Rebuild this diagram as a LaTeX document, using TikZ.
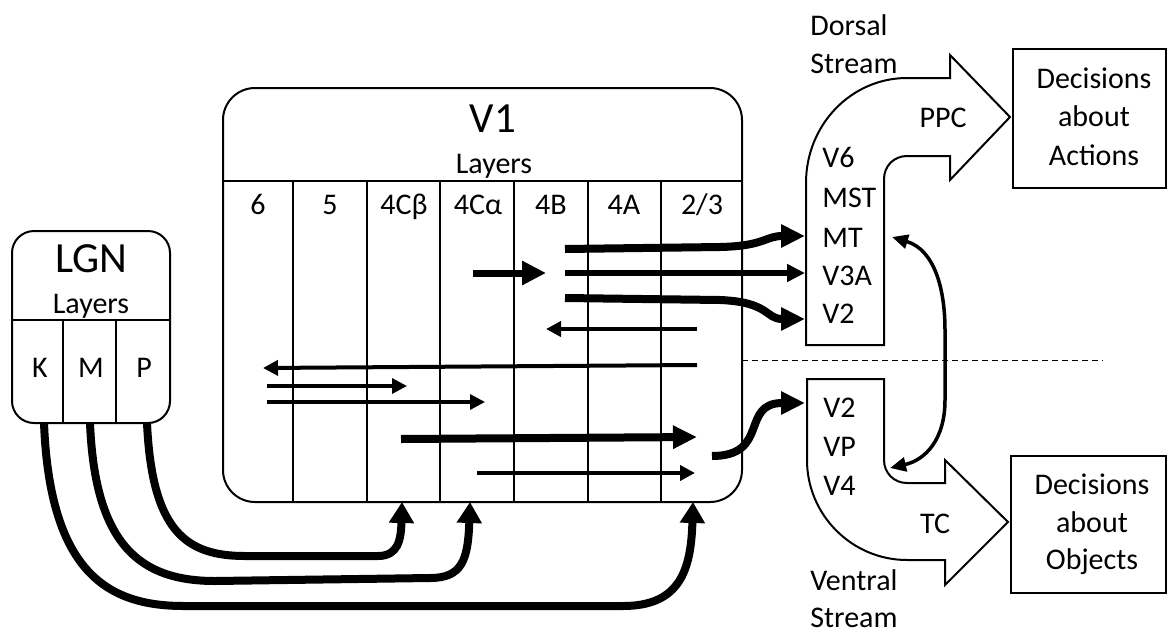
\documentclass[tikz,border=0pt]{standalone}
\usepackage{fontspec}
\setmainfont{Carlito}
\usepackage{tikz}
\usetikzlibrary{arrows.meta}
\newcommand\bigfont{\fontsize{21.5}{25}\selectfont}
\newcommand\labfont{\fontsize{15}{18}\selectfont}

\begin{document}
\begin{tikzpicture}[x=0.5pt, y=-0.5pt,
    box/.style={line width=1pt},
    sep/.style={line width=0.6pt},
    lab/.style={font=\labfont, anchor=base, inner sep=0pt},
    labl/.style={font=\labfont, anchor=base west, inner sep=0pt},
    head/.style={font=\bigfont, anchor=base, inner sep=0pt},
    fat/.style={line width=4pt, -{Triangle[length=12pt, width=11pt]}},
    fatb/.style={line width=3.5pt, -{Triangle[length=12pt, width=11.5pt]}},
    mid/.style={line width=3pt, -{Triangle[length=9pt, width=8.5pt]}},
    thin/.style={line width=2pt, -{Triangle[length=7.5pt, width=7.5pt]}},
    thinner/.style={line width=1.6pt, -{Triangle[length=7.5pt, width=7.5pt]}}]
  \useasboundingbox (0,0) rectangle (1168,633);

  % LGN
  \draw[box, rounded corners=11pt] (12,231) rectangle (170,423);
  \draw[box] (12,320) -- (170,320);
  \foreach \x in {63,116} \draw[sep] (\x,320) -- (\x,423);
  \node[head] (lgn) at (91,272) {LGN};
  \node[lab] (lgnlay) at (91,313) {Layers};
  \node[lab] (k) at (40,377) {K};
  \node[lab] (m) at (91,377) {M};
  \node[lab] (p) at (144,377) {P};

  % V1
  \draw[box, rounded corners=16pt] (223,88) rectangle (742,502);
  \draw[box] (223,181) -- (742,181);
  \foreach \x in {293,367,440,514,588,661} \draw[sep] (\x,181) -- (\x,502);
  \node[head] (v1) at (493,132) {V1};
  \node[lab] (v1lay) at (494,173) {Layers};
  \foreach \nm/\x/\t in {l6/258/6, l5/330/5, l4cb/404/4Cβ, l4ca/478/4Cα,
                         l4b/551/4B, l4a/624/4A, l23/702/{2/3}}
    \node[lab] (\nm) at (\x,214) {\t};

  % streams
  \draw[box, line join=miter] (806,345) -- (806,183)
    .. controls (806,125) and (851,78) .. (907,78) -- (950,78) -- (950,55)
    -- (1010,117) -- (950,180) -- (950,156) -- (907,156)
    .. controls (894,156) and (884,166) .. (884,179) -- (884,345) -- cycle;
  \draw[box, line join=miter] (807,379) -- (884,379) -- (884,460)
    .. controls (884,473) and (894,483) .. (907,483) -- (945,483) -- (945,460)
    -- (1008,522) -- (945,585) -- (945,560) -- (907,560)
    .. controls (852,560) and (807,515) .. (807,460) -- cycle;
  \draw[line width=0.5pt, dash pattern=on 3pt off 2pt] (742,360) -- (1103,360);

  \node[labl] (dors) at (810,35) {Dorsal};
  \node[labl] (dstr) at (810,73) {Stream};
  \node[labl] (vent) at (810,590) {Ventral};
  \node[labl] (vstr) at (810,627) {Stream};
  \node[lab] (ppc) at (943,127) {PPC};
  \node[lab] (tc) at (935,533) {TC};
  \foreach \nm/\y/\t in {v6/167/V6, mst/207/MST, mt/247/MT, v3a/285/V3A, dv2/323/V2}
    \node[labl] (\nm) at (822,\y) {\t};
  \foreach \nm/\y/\t in {vv2/417/V2, vp/456/VP, v4/495/V4}
    \node[labl] (\nm) at (823,\y) {\t};

  % decisions
  \node[draw, line width=0.8pt, inner sep=0pt, minimum width=76.5pt,
        minimum height=69.5pt] (act) at (1089.5,118.5) {};
  \node[lab] (act1) at (1094,88) {Decisions};
  \node[lab] (act2) at (1094,126) {about};
  \node[lab] (act3) at (1094,165) {Actions};
  \node[draw, line width=0.8pt, inner sep=0pt, minimum width=77.5pt,
        minimum height=68.5pt] (obj) at (1088.5,524.5) {};
  \node[lab] (obj1) at (1092,494) {Decisions};
  \node[lab] (obj2) at (1092,532) {about};
  \node[lab] (obj3) at (1092,569) {Objects};

  % arrows inside V1
  \foreach \nm/\xa/\ya/\xb/\yb/\st in {a/473/273/546/273/fatb, b/697/329/546/329/thin,
      c/697/365/263/368/thin, d/267/386/407/386/thinner, e/267/402/485/402/thinner,
      f/401/439/697/437/fat, g/477/473/695/473/thin} {
    \coordinate (\nm s) at (\xa,\ya);
    \coordinate (\nm e) at (\xb,\yb);
    \draw[\st] (\nm s) -- (\nm e);
  }

  % V1 to the streams
  \coordinate (o1) at (565,249);
  \coordinate (o2) at (565,273);
  \coordinate (o3) at (565,298);
  \coordinate (o4) at (712,456);
  \coordinate (inmt) at (805,236);
  \coordinate (inv3a) at (805,273);
  \coordinate (indv2) at (805,319);
  \coordinate (invv2) at (805,403);
  \draw[fat] (o1) -- (720,247) .. controls (765,246) and (765,236) .. (inmt);
  \draw[mid] (o2) -- (inv3a);
  \draw[fat] (o3) -- (720,300) .. controls (770,302) and (765,319) .. (indv2);
  \draw[fat] (o4) .. controls (770,456) and (740,403) .. (invv2);

  % between the streams
  \coordinate (mtr) at (892,237);
  \coordinate (v4r) at (890,468);
  \draw[line width=1.75pt, {Triangle[length=8pt, width=7pt]}-{Triangle[length=8pt, width=7pt]}]
    (mtr) .. controls (935,250) and (945,290) .. (945,330) -- (945,400)
    .. controls (945,440) and (925,460) .. (v4r);

  % LGN to V1
  \coordinate (kout) at (44,423);
  \coordinate (mout) at (90,423);
  \coordinate (pout) at (147,423);
  \coordinate (in4cb) at (402,502);
  \coordinate (in4ca) at (470,502);
  \coordinate (in23) at (693,502);
  \draw[line width=4pt, -{Triangle[length=10.5pt, width=12pt]}]
    (pout) .. controls (152,530) and (185,556) .. (245,556) -- (378,556)
    .. controls (398,556) and (401,540) .. (in4cb);
  \draw[line width=4pt, -{Triangle[length=10.5pt, width=12pt]}]
    (mout) .. controls (95,545) and (140,581) .. (215,581) -- (430,578)
    .. controls (462,578) and (468,560) .. (in4ca);
  \draw[line width=4pt, -{Triangle[length=10.5pt, width=12pt]}]
    (kout) .. controls (50,575) and (110,606) .. (184,606) -- (623,606)
    .. controls (680,606) and (691,570) .. (in23);
\end{tikzpicture}
\end{document}
